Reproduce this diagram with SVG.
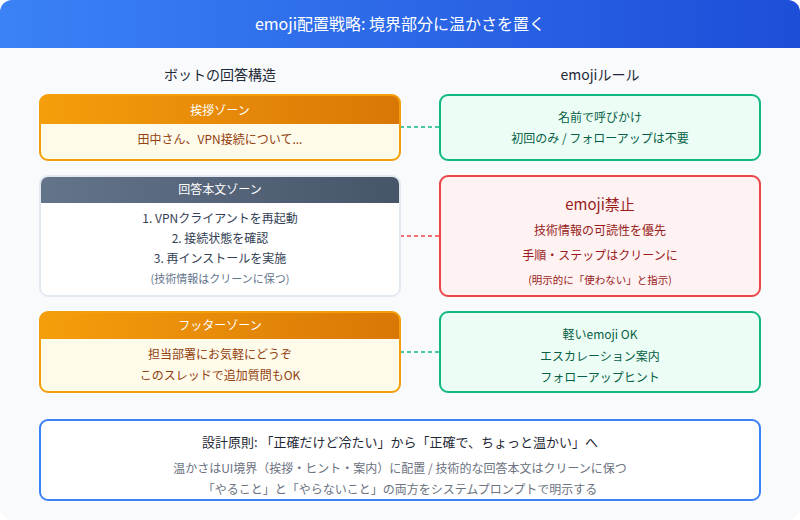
<svg xmlns="http://www.w3.org/2000/svg" width="800" height="520" viewBox="0 0 800 520">
<defs>
<linearGradient id="gBlue" x1="0" y1="0" x2="1" y2="0"><stop offset="0" stop-color="#3b82f6"/><stop offset="1" stop-color="#1d4ed8"/></linearGradient>
<linearGradient id="gOrange" x1="0" y1="0" x2="1" y2="0"><stop offset="0" stop-color="#f59e0b"/><stop offset="1" stop-color="#d97706"/></linearGradient>
<linearGradient id="gSlate" x1="0" y1="0" x2="1" y2="0"><stop offset="0" stop-color="#64748b"/><stop offset="1" stop-color="#475569"/></linearGradient>
<clipPath id="c1"><rect x="40" y="95" width="360" height="65" rx="8"/></clipPath>
<clipPath id="c2"><rect x="40" y="176" width="360" height="120" rx="8"/></clipPath>
<clipPath id="c3"><rect x="40" y="312" width="360" height="80" rx="8"/></clipPath>
<clipPath id="cTop"><rect x="0" y="0" width="800" height="520" rx="12"/></clipPath>
</defs>
<style>
text{font-family:"Noto Sans CJK JP","Noto Sans",sans-serif;text-anchor:middle;}
.sec{font-size:14px;fill:#1f2937;}
.hd{font-size:12px;fill:#ffffff;}
.or{font-size:12px;fill:#92400e;}
.sl{font-size:12px;fill:#334155;}
.note{font-size:11px;fill:#64748b;}
.gr{font-size:12px;fill:#065f46;}
.rd{font-size:12px;fill:#991b1b;}
.rdn{font-size:10.5px;fill:#991b1b;}
.conn{stroke-width:1.5;stroke-dasharray:4 3;fill:none;}
</style>
<rect x="0" y="0" width="800" height="520" rx="12" fill="#f8fafc"/>
<g clip-path="url(#cTop)"><rect x="0" y="0" width="800" height="48" fill="url(#gBlue)"/></g>
<text x="400" y="30" font-size="16" fill="#ffffff">emoji配置戦略: 境界部分に温かさを置く</text>
<text class="sec" x="220" y="80">ボットの回答構造</text>
<text class="sec" x="600" y="80">emojiルール</text>

<g id="connectors">
<line class="conn" x1="400" y1="127" x2="440" y2="127" stroke="#10b981"/>
<line class="conn" x1="400" y1="236" x2="440" y2="236" stroke="#ef4444"/>
<line class="conn" x1="400" y1="352" x2="440" y2="352" stroke="#10b981"/>
</g>

<g id="greeting">
<rect x="40" y="95" width="360" height="65" rx="8" fill="#fffbeb"/>
<rect x="40" y="95" width="360" height="29" fill="url(#gOrange)" clip-path="url(#c1)"/>
<rect x="40" y="95" width="360" height="65" rx="8" fill="none" stroke="#f59e0b" stroke-width="2"/>
<text class="hd" x="220" y="115">挨拶ゾーン</text>
<text class="or" x="220" y="144">田中さん、VPN接続について...</text>
</g>

<g id="body">
<rect x="40" y="176" width="360" height="120" rx="8" fill="#ffffff"/>
<rect x="40" y="176" width="360" height="27" fill="url(#gSlate)" clip-path="url(#c2)"/>
<rect x="40" y="176" width="360" height="120" rx="8" fill="none" stroke="#e2e8f0" stroke-width="2"/>
<text class="hd" x="220" y="194">回答本文ゾーン</text>
<text class="sl" x="220" y="223">1. VPNクライアントを再起動</text>
<text class="sl" x="220" y="243">2. 接続状態を確認</text>
<text class="sl" x="220" y="263">3. 再インストールを実施</text>
<text class="note" x="220" y="283">(技術情報はクリーンに保つ)</text>
</g>

<g id="footer">
<rect x="40" y="312" width="360" height="80" rx="8" fill="#fffbeb"/>
<rect x="40" y="312" width="360" height="27" fill="url(#gOrange)" clip-path="url(#c3)"/>
<rect x="40" y="312" width="360" height="80" rx="8" fill="none" stroke="#f59e0b" stroke-width="2"/>
<text class="hd" x="220" y="330">フッターゾーン</text>
<text class="or" x="220" y="359">担当部署にお気軽にどうぞ</text>
<text class="or" x="220" y="380">このスレッドで追加質問もOK</text>
</g>

<g id="rule-greeting">
<rect x="440" y="95" width="320" height="65" rx="8" fill="#ecfdf5" stroke="#10b981" stroke-width="2"/>
<text class="gr" x="600" y="122">名前で呼びかけ</text>
<text class="gr" x="600" y="143">初回のみ / フォローアップは不要</text>
</g>

<g id="rule-body">
<rect x="440" y="176" width="320" height="120" rx="8" fill="#fef2f2" stroke="#ef4444" stroke-width="2"/>
<text x="600" y="210" font-size="15" fill="#991b1b">emoji禁止</text>
<text class="rd" x="600" y="235">技術情報の可読性を優先</text>
<text class="rd" x="600" y="260">手順・ステップはクリーンに</text>
<text class="rdn" x="600" y="284">(明示的に「使わない」と指示)</text>
</g>

<g id="rule-footer">
<rect x="440" y="312" width="320" height="80" rx="8" fill="#ecfdf5" stroke="#10b981" stroke-width="2"/>
<text class="gr" x="600" y="339">軽いemoji OK</text>
<text class="gr" x="600" y="361">エスカレーション案内</text>
<text class="gr" x="600" y="382">フォローアップヒント</text>
</g>

<g id="principle">
<rect x="40" y="420" width="720" height="80" rx="8" fill="#ffffff" stroke="#3b82f6" stroke-width="2"/>
<text x="400" y="447" font-size="13" fill="#1f2937">設計原則: 「正確だけど冷たい」から「正確で、ちょっと温かい」へ</text>
<text x="400" y="473" font-size="12" fill="#6b7280">温かさはUI境界（挨拶・ヒント・案内）に配置 / 技術的な回答本文はクリーンに保つ</text>
<text x="400" y="494" font-size="12" fill="#6b7280">「やること」と「やらないこと」の両方をシステムプロンプトで明示する</text>
</g>
</svg>
